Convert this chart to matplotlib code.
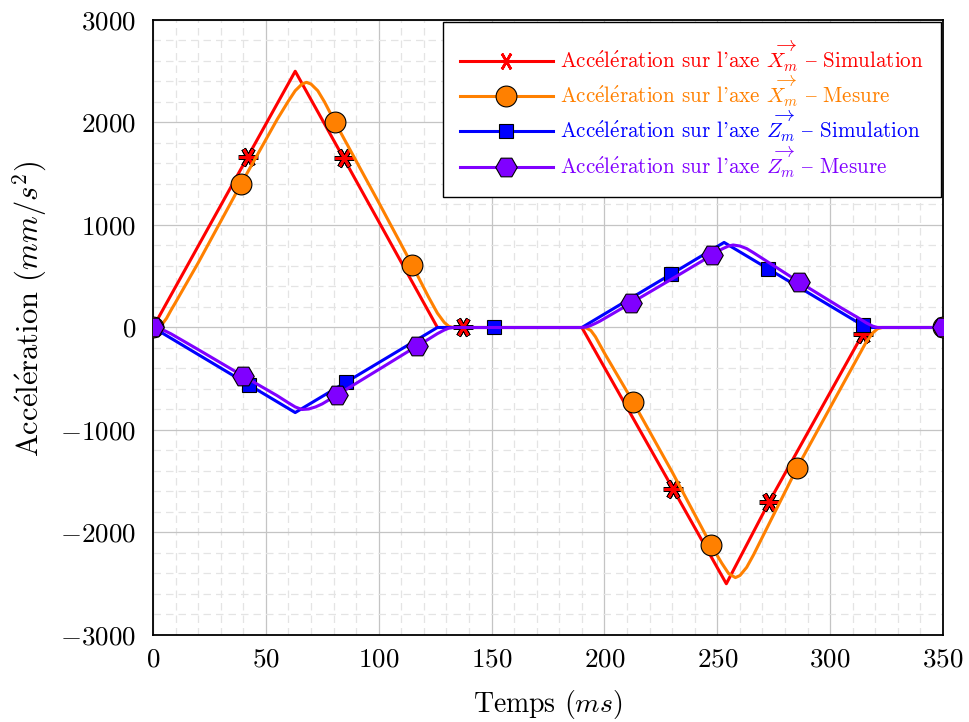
import matplotlib
matplotlib.use("Agg")
import matplotlib.pyplot as plt
from matplotlib.ticker import MultipleLocator

plt.rcParams['font.family'] = ['cmr10', 'DejaVu Serif']
plt.rcParams['mathtext.fontset'] = 'cm'
plt.rcParams['axes.formatter.use_mathtext'] = True

# Acceleration along X, simulation (ms, mm/s^2)
t_x_sim = [0, 42, 63, 84.5, 126, 137.5, 190, 230.5, 254, 273, 314.5, 316, 350]
a_x_sim = [0, 1667, 2500, 1650, 0, 0, 0, -1580, -2500, -1700, -60, 0, 0]
mk_x_sim = [1, 3, 5, 7, 9, 10]

# Acceleration along X, measured
t_x_mes = [0, 2, 4, 6, 8, 10, 20, 39, 55, 60, 63, 66, 68, 70, 73, 76, 80.6, 100,
           114.8, 122, 126, 129, 131, 133, 150, 190, 192, 194, 196, 198, 200, 212.7,
           230, 247.2, 252, 255, 258, 260, 263, 266, 285.3, 305, 312, 316, 319, 321,
           323, 350]
a_x_mes = [0, 5, 30, 90, 170, 245, 630, 1400, 2030, 2210, 2310, 2375, 2392, 2375,
           2310, 2200, 2005, 1220, 610, 300, 140, 50, 12, 0, 0, 0, -5, -30, -90, -170,
           -250, -727, -1410, -2122, -2300, -2400, -2440, -2420, -2340, -2220, -1371,
           -580, -300, -140, -50, -12, 0, 0]
mk_x_mes = [0, 7, 16, 18, 31, 33, 40, 47]

# Acceleration along Z, simulation
t_z_sim = [0, 42.5, 63, 85.5, 126, 151, 190, 229.5, 253, 272.5, 314.5, 316, 350]
a_z_sim = [0, -560, -830, -534, 0, 0, 0, 520, 830, 573, 20, 0, 0]
mk_z_sim = [1, 3, 5, 7, 9, 10]

# Acceleration along Z, measured
t_z_mes = [0, 2, 4, 6, 8, 20, 39.9, 55, 60, 63, 66, 69, 72, 75, 81.5, 100, 117, 122,
           126, 129, 131, 133, 150, 190, 192, 194, 196, 198, 211.8, 230, 247.7, 252,
           255, 257, 260, 263, 266, 286.2, 305, 312, 316, 319, 321, 350]
a_z_mes = [0, -5, -20, -40, -62, -215, -473, -665, -735, -775, -800, -795, -775,
           -745, -659, -410, -180, -115, -60, -25, -7, 0, 0, 0, 5, 20, 40, 62, 239,
           475, 707, 765, 795, 805, 795, 770, 730, 444, 190, 100, 45, 12, 0, 0]
mk_z_mes = [0, 6, 14, 16, 28, 30, 37, 43]

RED, ORANGE, BLUE, VIOLET = '#ff0000', '#ff8000', '#0000ff', '#8000ff'
LW = 2.2

# cmr10 uses the TeX text encoding: "'" is a right quote, "{" an en dash
ACC = r'Acc$\acute{\rm e}$l$\acute{\rm e}$ration'

fig = plt.figure(figsize=(9.69, 7.22), dpi=100)
ax = fig.add_axes([0.1579, 0.1205, 0.8153, 0.8518])

# red asterisks: black outline underneath, red strokes on top
ast = (6, 2, 30)
ax.plot(t_x_sim, a_x_sim, color=RED, lw=LW, zorder=3)
ax.plot([t_x_sim[i] for i in mk_x_sim], [a_x_sim[i] for i in mk_x_sim], ls='none',
        marker=ast, ms=14, mec='black', mew=3.6, zorder=3)
ax.plot([t_x_sim[i] for i in mk_x_sim], [a_x_sim[i] for i in mk_x_sim], ls='none',
        marker=ast, ms=13, mec=RED, mew=1.9, zorder=3)
h1 = ax.plot([], [], color=RED, lw=LW, marker=ast, ms=13, mec=RED, mew=1.9)[0]

h2 = ax.plot(t_x_mes, a_x_mes, color=ORANGE, lw=LW, marker='o', ms=15,
             mfc=ORANGE, mec='black', mew=0.8, markevery=mk_x_mes, zorder=4)[0]
h3 = ax.plot(t_z_sim, a_z_sim, color=BLUE, lw=LW, marker='s', ms=10.5,
             mfc=BLUE, mec='black', mew=0.8, markevery=mk_z_sim, zorder=5)[0]
h4 = ax.plot(t_z_mes, a_z_mes, color=VIOLET, lw=LW, marker='H', ms=15.5,
             mfc=VIOLET, mec='black', mew=0.8, markevery=mk_z_mes, zorder=6)[0]

ax.set_xlim(0, 350)
ax.set_ylim(-3000, 3000)
ax.xaxis.set_major_locator(MultipleLocator(50))
ax.xaxis.set_minor_locator(MultipleLocator(10))
ax.yaxis.set_major_locator(MultipleLocator(1000))
ax.yaxis.set_minor_locator(MultipleLocator(200))
ax.grid(which='major', color='#c4c4c4', lw=0.9, zorder=0)
ax.grid(which='minor', color='#e4e4e4', lw=0.9, ls=(0, (6, 4)), zorder=0)
ax.set_axisbelow(True)
ax.tick_params(which='both', length=0, labelsize=19.5)
ax.tick_params(axis='x', pad=9)
ax.tick_params(axis='y', pad=12)
for s in ax.spines.values():
    s.set_linewidth(1.3)
    s.set_color('black')

ax.set_xlabel(r'Temps ($ms$)', fontsize=20, labelpad=12)
ax.set_ylabel(ACC + r' ($mm/s^2$)', fontsize=22, labelpad=8)
ax.yaxis.label.set_y(0.53)

labels = [ACC + r" sur l'axe $\overrightarrow{X_m}$ { Simulation",
          ACC + r" sur l'axe $\overrightarrow{X_m}$ { Mesure",
          ACC + r" sur l'axe $\overrightarrow{Z_m}$ { Simulation",
          ACC + r" sur l'axe $\overrightarrow{Z_m}$ { Mesure"]
leg = ax.legend([h1, h2, h3, h4], labels, loc='upper right',
                bbox_to_anchor=(0.997, 0.997), fontsize=15.2, handlelength=4.4,
                labelspacing=0.0, borderpad=0.8, handletextpad=0.35,
                fancybox=False, framealpha=1, edgecolor='black', borderaxespad=0)
leg.get_frame().set_linewidth(1.0)
for txt, c in zip(leg.get_texts(), [RED, ORANGE, BLUE, VIOLET]):
    txt.set_color(c)

fig.savefig('out.png', dpi=100)
